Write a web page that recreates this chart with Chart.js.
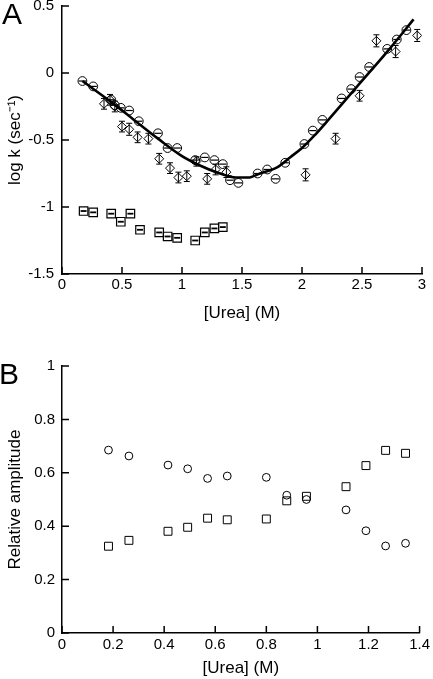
<!DOCTYPE html>
<html>
<head>
<meta charset="utf-8">
<script src="https://cdn.jsdelivr.net/npm/chart.js@4/dist/chart.umd.min.js"></script>
<style>
  html, body { margin: 0; padding: 0; background: #fff; overflow: hidden; }
  #wrap { position: relative; width: 433px; height: 679px; }
  canvas { position: absolute; left: 0; }
  .panel { position: absolute; font: 30px 'Liberation Sans', Arial, sans-serif; color: #000; line-height: 1; }
</style>
</head>
<body>
<div id="wrap">
  <canvas id="chartA" width="433" height="360" style="top:-20px"></canvas>
  <canvas id="chartB" width="433" height="339" style="top:340px"></canvas>
  <div class="panel" style="left:2px;top:-1px">A</div>
  <div class="panel" style="left:-1px;top:359px">B</div>
</div>
<script>
// ---- panel A: rate constants vs urea ----
const xTicksA = ['0', '0.5', '1', '1.5', '2', '2.5', '3'];
const yTicksA = ['-1.5', '-1', '-0.5', '0', '0.5'];

const circX = [0.17, 0.26, 0.41, 0.44, 0.49, 0.56, 0.64, 0.80, 0.88, 0.96, 1.11, 1.19, 1.27, 1.34, 1.40,
               1.47, 1.63, 1.71, 1.78, 1.86, 2.02, 2.09, 2.17, 2.33, 2.41, 2.48, 2.56, 2.71, 2.79, 2.87];
const circY = [-0.06, -0.10, -0.20, -0.24, -0.26, -0.28, -0.36, -0.45, -0.56, -0.56, -0.65, -0.63, -0.65, -0.68, -0.80,
               -0.82, -0.75, -0.72, -0.79, -0.67, -0.53, -0.43, -0.35, -0.19, -0.12, -0.03, 0.045, 0.18, 0.25, 0.32];

const diaX = [0.35, 0.40, 0.44, 0.50, 0.56, 0.63, 0.72, 0.81, 0.90, 0.97, 1.04, 1.12, 1.21, 1.28, 1.37,
              2.03, 2.28, 2.48, 2.62, 2.78, 2.96];
const diaY = [-0.23, -0.20, -0.25, -0.40, -0.42, -0.48, -0.49, -0.64, -0.71, -0.78, -0.77, -0.66, -0.79, -0.72, -0.74,
              -0.76, -0.49, -0.17, 0.24, 0.16, 0.28];
const diaErr = [0.04, 0.04, 0.04, 0.04, 0.045, 0.04, 0.04, 0.04, 0.04, 0.04, 0.04, 0.035, 0.04, 0.04, 0.04,
                0.045, 0.04, 0.04, 0.045, 0.045, 0.045];

const sqX = [0.18, 0.26, 0.41, 0.49, 0.57, 0.65, 0.81, 0.88, 0.96, 1.11, 1.19, 1.27, 1.34];
const sqY = [-1.03, -1.04, -1.05, -1.11, -1.05, -1.17, -1.19, -1.22, -1.23, -1.25, -1.19, -1.16, -1.15];

const fitX = [0.17, 0.4, 0.6, 0.8, 1.0, 1.15, 1.3, 1.45, 1.55, 1.65, 1.8, 1.9, 2.0, 2.1, 2.2, 2.46, 2.73, 2.93];
const fitY = [-0.06, -0.21, -0.35, -0.49, -0.62, -0.69, -0.745, -0.78, -0.78, -0.75, -0.70, -0.63, -0.56, -0.47, -0.37, -0.10, 0.18, 0.40];

// ---- panel B: relative amplitudes ----
const xTicksB = ['0', '0.2', '0.4', '0.6', '0.8', '1', '1.2', '1.4'];
const yTicksB = ['0', '0.2', '0.4', '0.6', '0.8', '1'];
const ampX = [0.182, 0.262, 0.415, 0.492, 0.57, 0.647, 0.80, 0.88, 0.957, 1.112, 1.19, 1.267, 1.345];
const ampCirc = [0.685, 0.663, 0.629, 0.615, 0.579, 0.588, 0.583, 0.516, 0.50, 0.461, 0.383, 0.326, 0.336];
const ampSq = [0.325, 0.347, 0.381, 0.396, 0.43, 0.424, 0.427, 0.495, 0.512, 0.548, 0.627, 0.684, 0.673];

Chart.defaults.font.family = "'Liberation Sans', Arial, sans-serif";
Chart.defaults.color = '#000';

const pts = (xs, ys) => xs.map((x, i) => ({ x, y: ys[i] }));

const inwardTicks = {
  id: 'inwardTicks',
  afterDraw(chart) {
    const { ctx, chartArea, scales } = chart;
    ctx.save();
    ctx.strokeStyle = '#000';
    ctx.lineWidth = 1.5;
    ctx.beginPath();
    scales.x.ticks.forEach(t => {
      const px = scales.x.getPixelForValue(t.value);
      ctx.moveTo(px, chartArea.bottom);
      ctx.lineTo(px, chartArea.bottom - 7);
    });
    scales.y.ticks.forEach(t => {
      const py = scales.y.getPixelForValue(t.value);
      ctx.moveTo(chartArea.left, py);
      ctx.lineTo(chartArea.left + 7, py);
    });
    ctx.stroke();
    ctx.restore();
  }
};

// error bars for datasets with `errors`, and the short bar inside datasets with `bar`
const markerExtras = {
  id: 'markerExtras',
  afterDatasetsDraw(chart) {
    const { ctx, scales: { y } } = chart;
    chart.data.datasets.forEach((ds, i) => {
      if (!ds.errors && !ds.bar) return;
      const meta = chart.getDatasetMeta(i);
      ctx.save();
      ctx.strokeStyle = '#000';
      meta.data.forEach((pt, j) => {
        ctx.beginPath();
        if (ds.errors) {
          ctx.lineWidth = 1;
          const v = ds.data[j].y, e = ds.errors[j];
          const top = y.getPixelForValue(v + e), bot = y.getPixelForValue(v - e);
          ctx.moveTo(pt.x, top); ctx.lineTo(pt.x, bot);
          ctx.moveTo(pt.x - 3, top); ctx.lineTo(pt.x + 3, top);
          ctx.moveTo(pt.x - 3, bot); ctx.lineTo(pt.x + 3, bot);
        } else {
          ctx.lineWidth = ds.bar.width;
          ctx.moveTo(pt.x - ds.bar.half, pt.y);
          ctx.lineTo(pt.x + ds.bar.half, pt.y);
        }
        ctx.stroke();
      });
      ctx.restore();
    });
  }
};

function scaleOpts(min, max, step, labels, title, titlePad, tickPad, size, horizontal) {
  return {
    type: 'linear',
    min, max,
    grid: { display: false, drawTicks: false },
    border: { display: true, color: '#000', width: 1.5 },
    ticks: {
      stepSize: step,
      padding: tickPad,
      font: { size: 15 },
      color: '#000',
      maxRotation: 0,
      autoSkip: false,
      callback: (v, i) => labels[i]
    },
    title: { display: true, text: title, font: { size: 17 }, color: '#000', padding: titlePad },
    afterFit(scale) {
      if (horizontal) scale.height = size; else scale.width = size;
    }
  };
}

const common = {
  responsive: false,
  animation: false,
  events: [],
  plugins: { legend: { display: false }, tooltip: { enabled: false } }
};

new Chart(document.getElementById('chartA'), {
  type: 'scatter',
  data: {
    datasets: [
      {
        data: pts(circX, circY),
        bar: { half: 3.6, width: 1.2 },
        pointStyle: 'circle',
        pointRadius: 4.4,
        borderColor: '#000',
        borderWidth: 1,
        backgroundColor: 'rgba(0,0,0,0)',
        order: 1
      },
      {
        data: pts(diaX, diaY),
        errors: diaErr,
        pointStyle: 'rectRot',
        pointRadius: 4.5,
        borderColor: '#000',
        borderWidth: 1,
        backgroundColor: 'rgba(0,0,0,0)',
        order: 2
      },
      {
        data: pts(sqX, sqY),
        bar: { half: 3, width: 1.8 },
        pointStyle: 'rect',
        pointRadius: 6,
        borderColor: '#000',
        borderWidth: 1.2,
        backgroundColor: 'rgba(0,0,0,0)',
        order: 3
      },
      {
        data: pts(fitX, fitY),
        showLine: true,
        pointRadius: 0,
        borderColor: '#000',
        borderWidth: 2.6,
        cubicInterpolationMode: 'monotone',
        order: 4
      }
    ]
  },
  options: {
    ...common,
    layout: { padding: { top: 26, right: 11, left: 0, bottom: 0 } },
    scales: {
      x: scaleOpts(0, 3, 0.5, xTicksA, '[Urea] (M)', { top: 0, bottom: 16 }, 2, 66, true),
      y: scaleOpts(-1.5, 0.5, 0.5, yTicksA, 'log k (sec\u207B\u00B9)', { top: 5, bottom: 0 }, 8, 62, false)
    }
  },
  plugins: [markerExtras, inwardTicks]
});

new Chart(document.getElementById('chartB'), {
  type: 'scatter',
  data: {
    datasets: [
      {
        data: pts(ampX, ampCirc),
        pointStyle: 'circle',
        pointRadius: 3.9,
        borderColor: '#000',
        borderWidth: 1,
        backgroundColor: 'rgba(0,0,0,0)'
      },
      {
        data: pts(ampX, ampSq),
        pointStyle: 'rect',
        pointRadius: 5.6,
        borderColor: '#000',
        borderWidth: 1,
        backgroundColor: 'rgba(0,0,0,0)'
      }
    ]
  },
  options: {
    ...common,
    layout: { padding: { top: 26, right: 10, left: 0, bottom: 0 } },
    scales: {
      x: scaleOpts(0, 1.4, 0.2, xTicksB, '[Urea] (M)', { top: 0, bottom: 0 }, 3, 46, true),
      y: scaleOpts(0, 1, 0.2, yTicksB, 'Relative amplitude', { top: 5, bottom: 0 }, 7, 62, false)
    }
  },
  plugins: [inwardTicks]
});
</script>
</body>
</html>
